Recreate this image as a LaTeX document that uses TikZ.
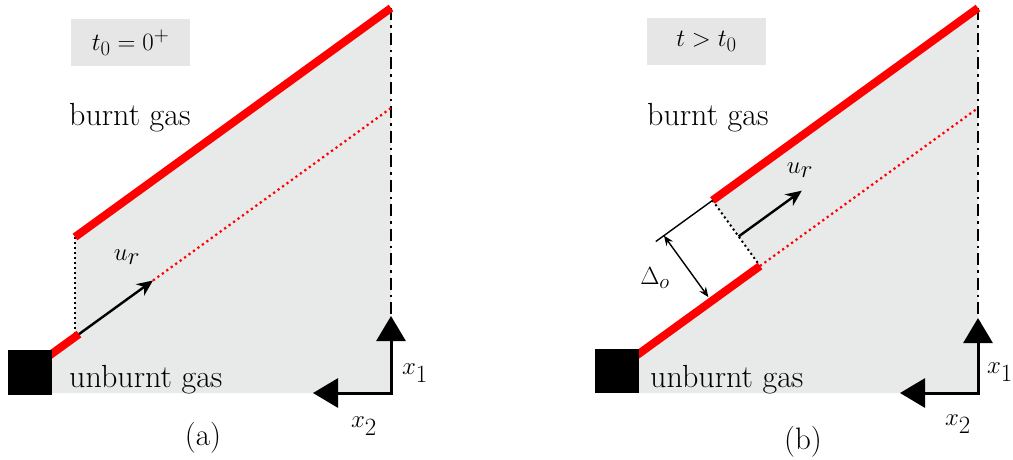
\documentclass[tikz,border=0pt]{standalone}
\usetikzlibrary{arrows.meta,calc}
\definecolor{bggray}{HTML}{E8E9E9}
\definecolor{boxgray}{HTML}{E6E6E6}
\definecolor{flame}{HTML}{FF0000}
\begin{document}
\begin{tikzpicture}[x=1pt,y=-1pt,
  font=\fontsize{29}{34}\selectfont,
  flamefront/.style={draw=flame,line width=8pt},
  flamedot/.style={draw=flame,line width=2.2pt,dash pattern=on 2.2pt off 3.3pt},
  blackdot/.style={line width=2pt,dash pattern=on 2pt off 3pt},
  axisline/.style={line width=2.5pt,dash pattern=on 12pt off 5pt on 2.5pt off 5pt},
  axarrows/.style={line width=3pt,{Triangle[length=25pt,width=29pt]}-{Triangle[length=25pt,width=29pt]}},
  velarrow/.style={line width=2.4pt,-{Stealth[length=16pt,width=14pt]}},
  dimarrow/.style={line width=1.4pt,{Stealth[length=10pt,width=8pt]}-{Stealth[length=10pt,width=8pt]}},
  thinline/.style={line width=1.4pt},
  labelbox/.style={fill=boxgray,minimum width=119pt,minimum height=47pt,inner sep=0pt},
  gastext/.style={anchor=base west,inner sep=0pt,font=\fontsize{32}{36}\selectfont},
  mathlabel/.style={font=\fontsize{34}{38}\selectfont},
  captext/.style={font=\fontsize{31}{36}\selectfont},
]
\useasboundingbox (0,0) rectangle (1013,459);

% ---------------- panel (a) ----------------
\coordinate (aO) at (391,393);
\coordinate (aT) at (391,8);
\coordinate (aL) at (391,108);
\coordinate (aA) at (75,237);
\coordinate (aB) at (75,337);
\coordinate (aS) at (46,358);
\coordinate (aE) at (79,334.1);
\coordinate (aC) at (52,353.7);
\coordinate (aD) at (52,393);
\coordinate (aU) at (153,280.5);
\coordinate (aX1) at (391,316);
\coordinate (aX2) at (313,393);

\fill[bggray] (aD) -- (aC) -- (aB) -- (aA) -- (aT) -- (aO) -- cycle;
\draw[blackdot] (aA) -- (aB);
\draw[axisline] (aT) -- (aX1);
\draw[flamedot] (aU) -- (aL);
\draw[flamefront] (aA) -- (aT);
\draw[flamefront] (aS) -- (aE);
\draw[velarrow] (aE) -- (aU);
\draw[axarrows] (aX2) -- (aO) -- (aX1);
\fill (8,350) rectangle (52,395);

\node[labelbox] (abox) at (130.5,42.5) {$t_0=0^+$};
\node[gastext] (aburnt) at (69,125) {burnt gas};
\node[gastext] (aunburnt) at (69,387) {unburnt gas};
\node[mathlabel] (aur) at (127,257) {$u_r$};
\node[mathlabel] (ax1) at (415,373) {$x_1$};
\node[mathlabel] (ax2) at (364,426) {$x_2$};
\node[captext] (acap) at (203,438) {(a)};

% ---------------- panel (b) ----------------
\coordinate (bO) at (978,393);
\coordinate (bT) at (978,8);
\coordinate (bL) at (978,108);
\coordinate (bP) at (760,266);
\coordinate (bQ) at (712.5,200.4);
\coordinate (bS) at (633,358);
\coordinate (bC) at (639,353.7);
\coordinate (bD) at (639,393);
\coordinate (bV) at ($(bQ)!0.55!(bP)$);
\coordinate (bW) at (801.8,190.7);
\coordinate (bX) at (655.8,241.5);
\coordinate (bY) at (663.9,235.6);
\coordinate (bZ) at (711.4,301.2);
\coordinate (bX1) at (978,318);
\coordinate (bX2) at (900,393);

\fill[bggray] (bD) -- (bC) -- (bP) -- (bQ) -- (bT) -- (bO) -- cycle;
\draw[blackdot] (bQ) -- (bP);
\draw[axisline] (bT) -- (bX1);
\draw[flamedot] (bP) -- (bL);
\draw[flamefront] (bQ) -- (bT);
\draw[flamefront] (bS) -- (bP);
\draw[velarrow] (bV) -- (bW);
\draw[thinline] (bQ) -- (bX);
\draw[dimarrow,shorten >=5pt] (bY) -- (bZ);
\draw[axarrows] (bX2) -- (bO) -- (bX1);
\fill (595,349) rectangle (639,393);

\node[labelbox] (bbox) at (706.5,41) {$t>t_0$};
\node[gastext] (bburnt) at (647,125) {burnt gas};
\node[gastext] (bunburnt) at (650,387) {unburnt gas};
\node[mathlabel] (bur) at (800,170) {$u_r$};
\node (bdelta) at (655,278) {$\Delta_o$};
\node[mathlabel] (bx1) at (1000,372) {$x_1$};
\node[mathlabel] (bx2) at (958,424) {$x_2$};
\node[captext] (bcap) at (803,442) {(b)};
\end{tikzpicture}
\end{document}
